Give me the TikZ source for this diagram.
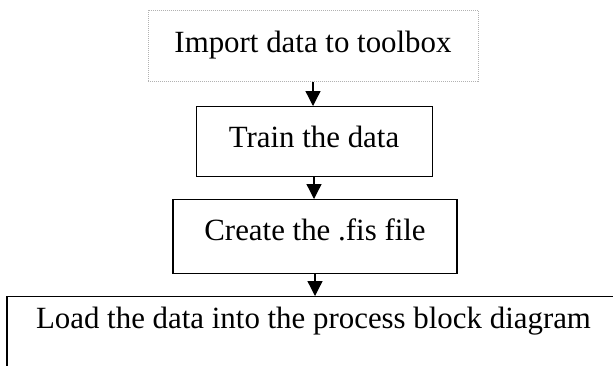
\documentclass[tikz,border=0pt]{standalone}
\usepackage{fontspec}
\setmainfont{Liberation Serif}
\usetikzlibrary{arrows.meta}

\begin{document}
\begin{tikzpicture}[x=1bp,y=-1bp,
  box/.style={draw, rectangle, inner sep=0pt, line width=1bp,
    font=\fontsize{31}{36}\selectfont, anchor=north},
  faint/.style={draw=gray!60, densely dotted, line width=0.7bp},
  flow/.style={-{Triangle[length=15bp,width=15bp]}, line width=1.3bp}]
\useasboundingbox (0,0) rectangle (613,365);
\clip (0,0) rectangle (613,365);

% process steps, baseline placed in the upper part of each box
\node[box, faint, minimum width=330bp, text height=42bp, text depth=29bp]
  (import) at (313,10) {Import data to toolbox};
\node[box, minimum width=236bp, text height=41bp, text depth=29bp]
  (train) at (314,106) {Train the data};
\node[box, line width=1.2bp, minimum width=284bp, text height=41bp, text depth=33bp]
  (create) at (315,199) {Create the .fis file};
\node[box, line width=1.2bp, minimum width=613bp, text height=32bp, text depth=100bp]
  (load) at (313.5,296) {Load the data into the process block diagram};

% connectors between the steps
\draw[flow] (import.south) -- (import.south |- train.north);
\draw[flow] (train.south) -- (train.south |- create.north);
\draw[flow] (create.south) -- (create.south |- load.north);
\end{tikzpicture}
\end{document}
